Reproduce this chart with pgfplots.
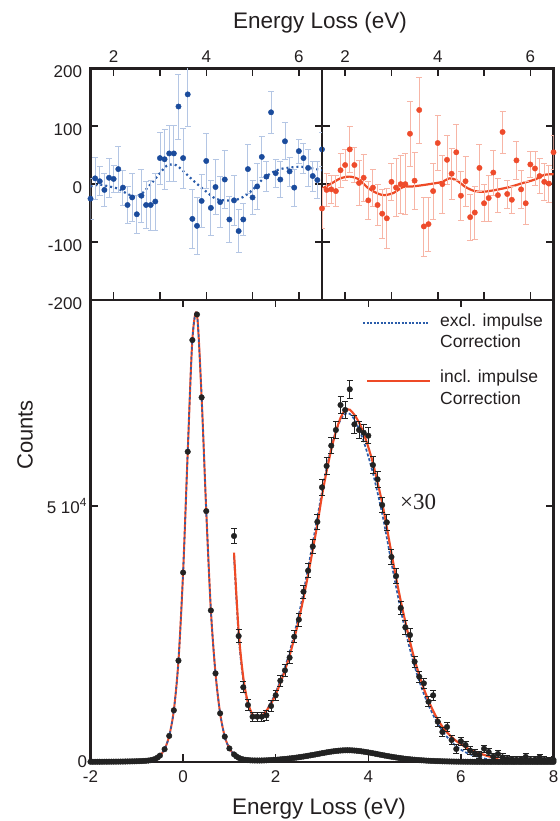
\documentclass[border=0pt]{standalone}
\usepackage{fontspec}
\setmainfont{Liberation Sans}
\newfontfamily\seriffont{Liberation Serif}
\usepackage{pgfplots}
\usepackage{pgfplotstable}
\pgfplotsset{compat=1.18}
\definecolor{axcol}{HTML}{231F20}
\definecolor{dblue}{HTML}{1A4B9C}
\definecolor{lblue}{HTML}{B4C6E4}
\definecolor{dred}{HTML}{EE4B2B}
\definecolor{lred}{HTML}{F7B5A6}
\definecolor{fitblue}{HTML}{2A5CAA}
\definecolor{fitred}{HTML}{EE4A26}
\definecolor{dotblack}{HTML}{222222}

\pgfplotstableread{
x y e
1.5 -25 35
1.6 10 37
1.7 5 25
1.8 -10 29
1.9 11 33
2.0 9 24
2.1 26 40
2.2 -6 30
2.3 -36 32
2.4 -23 42
2.5 -52 33
2.6 -20 46
2.7 -36 40
2.8 -36 43
2.9 -30 49
3.0 45 45
3.1 43 52
3.2 53 49
3.3 53 49
3.4 134 56
3.5 45 52
3.6 155 55
3.7 -60 51
3.8 -72 49
3.9 -29 46
4.0 40 48
4.1 -41 48
4.2 -5 48
4.3 -31 44
4.4 8 50
4.5 -61 40
4.6 -28 44
4.7 -81 37
4.8 -61 27
4.9 26 42
5.0 -23 30
5.1 -4 40
5.2 47 36
5.3 13 26
5.4 124 36
5.5 19 24
5.6 8 31
5.7 74 32
5.8 22 25
5.9 -6 32
6.0 57 21
6.1 45 26
6.2 28 32
6.3 14 26
6.4 7 32
6.5 60 30
}\bluetab

\pgfplotstableread{
x y e
1.5 -42 35
1.6 -10 28
1.7 -9 24
1.8 -12 27
1.9 24 30
2.0 33 27
2.1 60 39
2.2 33 30
2.3 2 39
2.4 11 40
2.5 -28 32
2.6 -6 32
2.7 -36 36
2.8 -51 42
2.9 -59 51
3.0 4 32
3.1 -6 50
3.2 0 50
3.3 0 53
3.4 87 56
3.5 6 49
3.6 128 57
3.7 -73 51
3.8 -69 47
3.9 -12 48
4.0 71 48
4.1 0 50
4.2 42 42
4.3 18 44
4.4 55 49
4.5 -20 42
4.6 5 43
4.7 -57 40
4.8 -49 46
4.9 28 41
5.0 -33 32
5.1 -24 40
5.2 20 39
5.3 -19 29
5.4 90 36
5.5 -17 24
5.6 -27 24
5.7 41 33
5.8 -9 32
5.9 -33 37
6.0 34 22
6.1 27 29
6.2 14 30
6.3 4 32
6.4 1 32
6.5 55 30
}\redtab

\pgfplotstableread{
x y e
1.1 44140 1400
1.2 24600 1300
1.3 14600 1100
1.4 11130 1000
1.5 8850 900
1.6 8850 900
1.7 8850 900
1.8 9100 900
1.9 10940 1000
2.0 13020 1000
2.1 15880 1100
2.2 17900 1100
2.3 20370 1200
2.4 24470 1200
2.5 27800 1300
2.6 33260 1300
2.7 37370 1400
2.8 42100 1400
2.9 46900 1500
3.0 53650 1500
3.1 57810 1600
3.2 61780 1600
3.3 64840 1700
3.4 69720 1700
3.5 68750 1700
3.6 72790 1700
3.7 65950 1700
3.8 64840 1700
3.9 64310 1700
4.0 63730 1600
4.1 58000 1600
4.2 55210 1600
4.3 50190 1500
4.4 46810 1500
4.5 40050 1400
4.6 36320 1400
4.7 30080 1300
4.8 26300 1300
4.9 24800 1200
5.0 19590 1100
5.1 16660 1100
5.2 15370 1000
5.3 11780 1000
5.4 13020 1000
5.5 7870 900
5.6 5860 900
5.7 6840 900
5.8 4300 800
5.9 2540 800
6.0 4040 800
6.1 3320 800
6.2 2210 800
6.3 1700 700
6.4 1370 700
6.5 2600 700
6.6 1950 700
6.7 1040 700
6.8 1560 700
6.9 900 700
7.0 600 600
7.1 500 600
7.2 450 600
7.3 500 600
7.4 1000 600
7.5 400 600
7.6 450 600
7.7 900 600
7.8 400 600
7.9 350 600
8.0 400 600
}\xthirtytab

\pgfplotstableread{
x y
-2.00 40
-1.95 42
-1.90 44
-1.85 46
-1.80 48
-1.75 50
-1.70 53
-1.65 56
-1.60 60
-1.55 64
-1.50 68
-1.45 73
-1.40 78
-1.35 84
-1.30 90
-1.25 97
-1.20 105
-1.15 114
-1.10 124
-1.05 136
-1.00 150
-0.95 166
-0.90 185
-0.85 210
-0.80 240
-0.75 285
-0.70 350
-0.65 450
-0.60 620
-0.55 880
-0.50 1250
-0.40 2500
-0.30 5100
-0.20 10100
-0.10 19800
0.00 37000
0.10 60600
0.20 82400
0.30 87400
0.40 71200
0.50 49000
0.60 29600
0.70 17300
0.80 9500
0.90 4950
1.00 2650
1.10 1480
1.15 1100
1.20 830
1.25 620
1.30 490
1.35 420
1.40 370
1.45 330
1.50 305
1.55 295
1.60 292
1.65 292
1.70 297
1.75 310
1.80 330
1.85 355
1.90 380
1.95 410
2.00 440
2.05 475
2.10 515
2.15 560
2.20 600
2.25 645
2.30 695
2.35 750
2.40 805
2.45 865
2.50 930
2.55 1000
2.60 1070
2.65 1140
2.70 1220
2.75 1300
2.80 1380
2.85 1460
2.90 1550
2.95 1630
3.00 1720
3.05 1800
3.10 1880
3.15 1960
3.20 2030
3.25 2090
3.30 2150
3.35 2200
3.40 2240
3.45 2270
3.50 2290
3.55 2295
3.60 2290
3.65 2270
3.70 2240
3.75 2200
3.80 2150
3.85 2090
3.90 2020
3.95 1950
4.00 1870
4.05 1790
4.10 1710
4.15 1620
4.20 1530
4.25 1440
4.30 1360
4.35 1270
4.40 1190
4.45 1110
4.50 1030
4.55 955
4.60 885
4.65 815
4.70 750
4.75 690
4.80 630
4.85 580
4.90 530
4.95 485
5.00 445
5.05 405
5.10 370
5.15 335
5.20 305
5.25 275
5.30 250
5.35 225
5.40 205
5.45 185
5.50 168
5.55 152
5.60 138
5.65 125
5.70 113
5.75 102
5.80 92
5.85 84
5.90 76
5.95 69
6.00 63
6.05 58
6.10 54
6.15 50
6.20 47
6.25 44
6.30 41
6.35 38
6.40 36
6.45 34
6.50 32
6.55 30
6.60 29
6.65 28
6.70 27
6.75 26
6.80 25
6.85 24
6.90 23
6.95 22
7.00 21
7.05 20
7.10 20
7.15 19
7.20 19
7.25 18
7.30 18
7.35 17
7.40 17
7.45 16
7.50 16
7.55 15
7.60 15
7.65 15
7.70 14
7.75 14
7.80 14
7.85 13
7.90 13
7.95 13
8.00 12
}\rawtab

\begin{document}
\begin{tikzpicture}[x=1pt,y=1pt]
\useasboundingbox (0pt,0pt) rectangle (559pt,821pt);
% heavy panel frames (drawn first, under the plots)
\draw[axcol, line width=2.7pt] (90.5pt,59pt) rectangle (553.5pt,521pt);
\draw[axcol, line width=2.7pt] (90.5pt,521pt) rectangle (322pt,752.7pt);
\draw[axcol, line width=2.7pt] (322pt,521pt) rectangle (553.5pt,752.7pt);
\pgfplotsset{
  myax/.style={
    scale only axis,
    axis line style={color=axcol},
    major tick length=7.5pt,
    every tick/.style={axcol, line width=1.5pt},
    tick align=inside,
    tick label style={font=\fontsize{17}{20}\selectfont, color=axcol},
    clip mode=individual,
  },
}

% upper left panel
\begin{axis}[myax, at={(90.5pt,521pt)}, anchor=south west,
  width=231.5pt, height=231.7pt,
  xmin=1.5, xmax=6.5, ymin=-200, ymax=200,
  xtick={2,3,4,5,6}, xticklabels={2,,4,,6},
  xtick pos=both, xticklabel pos=right,
  xticklabel style={yshift=2pt},
  ytick={-200,-100,0,100,200}, yticklabels={-200,-100,0,100,200},
  ytick pos=both, yticklabel pos=left,
  yticklabel style={xshift=-5pt, yshift=-3.5pt},
]
\addplot[fitblue, line width=2.2pt, dash pattern=on 2pt off 3pt, smooth] coordinates {
(1.5,-4) (1.7,-1) (1.9,-4) (2.1,-8) (2.3,-17) (2.45,-21) (2.6,-17) (2.8,0) (3.0,19) (3.15,32) (3.3,34) (3.4,30) (3.55,19) (3.75,4) (4.0,-13) (4.2,-25) (4.4,-28) (4.6,-28) (4.8,-22) (5.0,-10) (5.2,7) (5.4,19) (5.6,26) (5.85,29) (6.05,30) (6.3,27) (6.5,24)};
\addplot[only marks, mark=*, mark size=2.7pt, color=dblue,
  error bars/.cd, y dir=both, y explicit,
  error bar style={lblue, line width=0.9pt},
  error mark options={rotate=90, lblue, mark size=3pt, line width=0.7pt}]
  table[x=x, y=y, y error=e] {\bluetab};
\end{axis}

% upper right panel
\begin{axis}[myax, at={(322pt,521pt)}, anchor=south west,
  width=231.5pt, height=231.7pt,
  xmin=1.5, xmax=6.5, ymin=-200, ymax=200,
  xtick={2,3,4,5,6}, xticklabels={2,,4,,6},
  xtick pos=both, xticklabel pos=right,
  xticklabel style={yshift=2pt},
  ytick={-100,0,100}, yticklabels={},
  ytick pos=both,
]
\addplot[fitred, line width=2.2pt, smooth] coordinates {
(1.5,-8) (1.7,1) (1.9,10) (2.1,13) (2.3,8) (2.5,-7) (2.7,-16) (2.85,-19) (3.05,-15) (3.25,-5) (3.45,-4) (3.65,-2) (3.9,1) (4.1,4) (4.25,10) (4.4,7) (4.6,-5) (4.8,-12) (5.0,-13) (5.25,-10) (5.55,-5) (5.8,1) (6.1,8) (6.3,16) (6.5,17)};
\addplot[only marks, mark=*, mark size=2.7pt, color=dred,
  error bars/.cd, y dir=both, y explicit,
  error bar style={lred, line width=0.9pt},
  error mark options={rotate=90, lred, mark size=3pt, line width=0.7pt}]
  table[x=x, y=y, y error=e] {\redtab};
\end{axis}

% main panel
\begin{axis}[myax, at={(90.5pt,59pt)}, anchor=south west,
  width=463pt, height=462pt,
  xmin=-2, xmax=8, ymin=0, ymax=90230,
  xtick={-2,0,2,4,6,8}, xticklabels={-2,0,2,4,6,8},
  xtick pos=both, xticklabel pos=left,
  xticklabel style={yshift=-5pt},
  ytick={0,50000}, yticklabels={0,5 10\textsuperscript{4}},
  ytick pos=both, yticklabel pos=left,
  scaled y ticks=false,
]
\addplot[fitred, line width=2pt, smooth] table[x=x, y=y] {\rawtab};
\addplot[fitblue, line width=1.6pt, dash pattern=on 2.5pt off 2.5pt, smooth] table[x=x, y=y] {\rawtab};
\addplot[fitblue, line width=1.7pt, dash pattern=on 3pt off 2pt, smooth] coordinates {
(1.1,40000) (1.2,24500) (1.3,16000) (1.4,11300) (1.5,9100) (1.6,8600) (1.7,9000) (1.8,10100) (1.9,11700) (2.0,13600) (2.1,15900) (2.2,18500) (2.3,21500) (2.4,25000) (2.5,28800) (2.6,33200) (2.7,37900) (2.8,42800) (2.9,47800) (3.0,52800) (3.1,57400) (3.2,61400) (3.3,64600) (3.4,66800) (3.5,68000) (3.6,68000) (3.7,66900) (3.8,65000) (3.9,62600) (4.0,59700) (4.1,56400) (4.2,52600) (4.3,48500) (4.4,43800) (4.5,38900) (4.6,34200) (4.7,29700) (4.8,25700) (4.9,22000) (5.0,18700) (5.1,15800) (5.2,13300) (5.3,11100) (5.4,9200) (5.5,7500) (5.6,6100) (5.7,4900) (5.8,3900) (5.9,3100) (6.0,2400) (6.1,1900) (6.2,1500) (6.3,1200) (6.4,900) (6.5,700) (6.6,500) (6.7,350) (6.8,250) (7.0,120) (7.5,30) (8.0,0)};
\addplot[fitred, line width=2.1pt, smooth] coordinates {
(1.1,40900) (1.2,25500) (1.3,16500) (1.4,11600) (1.5,9300) (1.6,8700) (1.7,9000) (1.8,10000) (1.9,11400) (2.0,13200) (2.1,15400) (2.2,17900) (2.3,20800) (2.4,24100) (2.5,27800) (2.6,32000) (2.7,36600) (2.8,41400) (2.9,46400) (3.0,52000) (3.1,56800) (3.2,61000) (3.3,64500) (3.4,67200) (3.5,68700) (3.6,68800) (3.7,67800) (3.8,66300) (3.9,64200) (4.0,61500) (4.1,58400) (4.2,54600) (4.3,50600) (4.4,45800) (4.5,40800) (4.6,36000) (4.7,31500) (4.8,27400) (4.9,23500) (5.0,20000) (5.1,17000) (5.2,14300) (5.3,12000) (5.4,10000) (5.5,8300) (5.6,6900) (5.7,5800) (5.8,4900) (5.9,4100) (6.0,3500) (6.1,2900) (6.2,2400) (6.3,2000) (6.4,1700) (6.5,1400) (6.6,1100) (6.7,850) (6.8,500) (6.9,250) (7.0,100) (7.2,30) (7.5,0) (8.0,0)};
\addplot[only marks, mark=*, mark size=2.8pt, color=dotblack] table[x=x, y=y] {\rawtab};
\addplot[only marks, mark=*, mark size=2.8pt, color=dotblack,
  error bars/.cd, y dir=both, y explicit,
  error bar style={dotblack, line width=0.8pt},
  error mark options={rotate=90, dotblack, mark size=3pt, line width=0.8pt}]
  table[x=x, y=y, y error=e] {\xthirtytab};
\end{axis}

% legend
\draw[fitblue, line width=2pt, dash pattern=on 2pt off 1.5pt] (363pt,498.3pt) -- (428pt,498.3pt);
\draw[fitred, line width=2.2pt] (367pt,440.3pt) -- (430pt,440.3pt);
\begin{scope}[every node/.style={anchor=base west, inner sep=0pt, color=axcol, font=\fontsize{17.5}{21}\selectfont}]
\node at (440pt,494pt) {excl. impulse};
\node at (440pt,473pt) {Correction};
\node at (440pt,438pt) {incl. impulse};
\node at (440pt,416pt) {Correction};
\end{scope}

\node[anchor=base west, inner sep=0pt, color=axcol, font=\seriffont\fontsize{23}{27}\selectfont] at (400pt,311pt) {×30};

\node[color=axcol, font=\fontsize{22.5}{27}\selectfont] at (320pt,798pt) {Energy Loss (eV)};
\node[color=axcol, font=\fontsize{22.5}{27}\selectfont] at (319pt,12pt) {Energy Loss (eV)};
\node[rotate=90, color=axcol, font=\fontsize{22}{26}\selectfont] at (25pt,386pt) {Counts};
\end{tikzpicture}
\end{document}
